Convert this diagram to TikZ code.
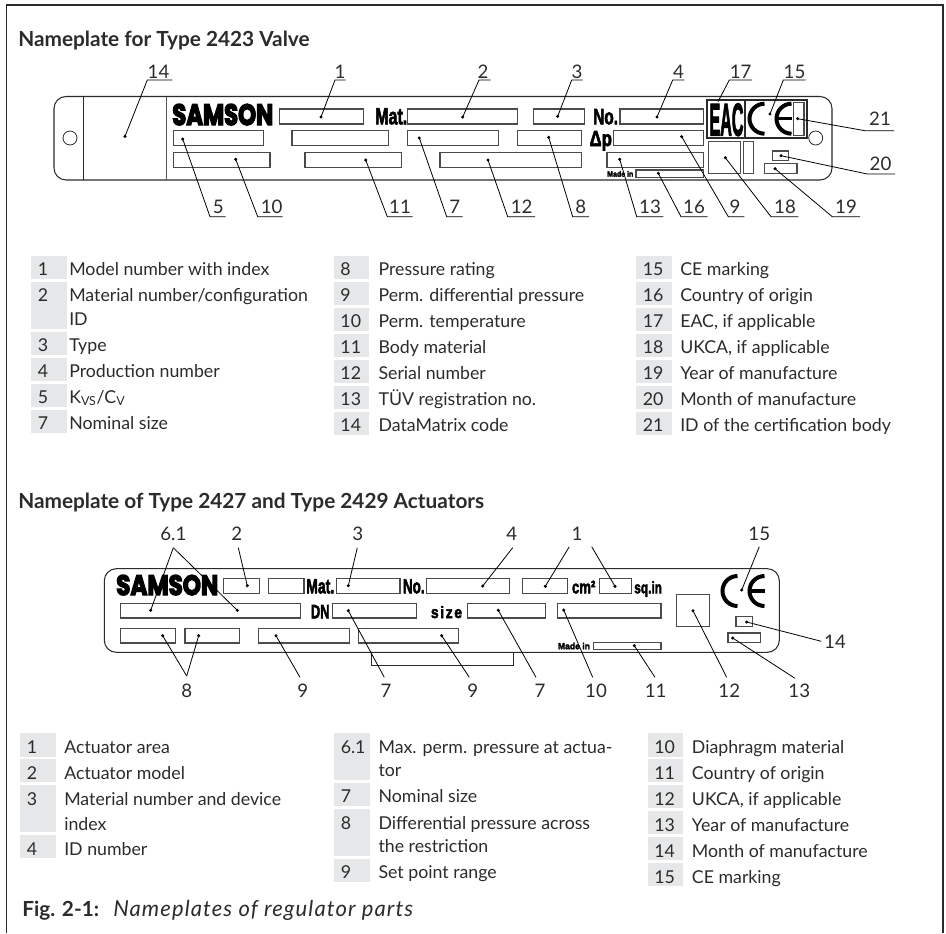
\documentclass[tikz,border=0pt]{standalone}
\usepackage{fontspec}
\usepackage{graphicx}
\setmainfont{Lato}
\newfontfamily\logofont[FakeBold=3,BoldFeatures={FakeBold=3}]{Liberation Sans}
\newfontfamily\brandfont[BoldFeatures={FakeBold=5}]{Poppins}
\newdimen\pxu \pxu=0.75pt
\newcount\rowno
\definecolor{ink}{HTML}{2B2B2B}
\definecolor{numgray}{HTML}{E6E7E8}
\tikzset{
  x=0.75pt,y=-0.75pt,
  plate/.style={draw=ink,line width=0.8pt,rounded corners=9pt},
  field/.style={draw=ink!85,line width=0.8pt},
  leaderline/.style={draw=black,line width=0.6pt},
  ce/.style={draw=black,line width=3pt},
  calllabel/.style={anchor=base,inner sep=0pt,text=ink,font=\fontsize{14pt}{16pt}\selectfont},
  rowtext/.style={anchor=base west,inner sep=0pt,text=ink,font=\fontsize{13.3pt}{15pt}\selectfont},
  heading/.style={anchor=base west,inner sep=0pt,text=ink,font=\fontsize{15.6pt}{18pt}\selectfont\bfseries},
  logotext/.style={anchor=base west,inner sep=0pt,text=black},
}
% fit text to a width/height in reference pixels
\newcommand\fitlogo[3]{\resizebox{#1\pxu}{#2\pxu}{#3}}
% \fieldbox{name}{x1}{y1}{x2}{y2}
\newcommand\fieldbox[5]{\coordinate (#1-a) at (#2,#3);\coordinate (#1-b) at (#4,#5);\draw[field] (#1-a) rectangle (#1-b);}
% \callout{id}{dot}{bend}{end}{label}{labelx}{baseline}
\newcommand\callout[7]{%
  \coordinate (#1-dot) at (#2);\coordinate (#1-bend) at (#3);\coordinate (#1-end) at (#4);
  \node[calllabel] (#1-lab) at (#6,#7) {#5};
  \draw[leaderline] (#1-dot) -- (#1-bend) -- (#1-end);
  \fill (#1-dot) circle[radius=1.7];}
% \spoke{id}{dot}{apex}
\newcommand\spoke[3]{%
  \coordinate (#1-dot) at (#2);\coordinate (#1-apex) at (#3);
  \draw[leaderline] (#1-dot) -- (#1-apex);
  \fill (#1-dot) circle[radius=1.7];}
% \lrow{boxleft}{textx}{top}{bottom}{baseline}{num}{text}
\newcommand\lrow[7]{%
  \global\advance\rowno by 1
  \coordinate (r\the\rowno-a) at (#1,#3);
  \coordinate (r\the\rowno-b) at ({#1+35.5},#4);
  \fill[numgray] (r\the\rowno-a) rectangle (r\the\rowno-b);
  \node[rowtext] (n\the\rowno) at ({#1+6.5},#5) {#6};
  \node[rowtext] (t\the\rowno) at (#2,#5) {#7};}
% CE mark: \cemark{C top x}{E top x}{centre y}{radius}
\newcommand\cemark[4]{%
  \draw[ce] (#1,{#3-#4}) arc[start angle=-90,end angle=-270,radius=#4];
  \draw[ce] (#2,{#3-#4}) arc[start angle=-90,end angle=-270,radius=#4];
  \draw[ce,line width=2.4pt] ({#2-14},#3) -- (#2,#3);}
\begin{document}
\begin{tikzpicture}
\useasboundingbox (0,0) rectangle (946,933);
\draw[ink,line width=0.9pt] (6.5,933) -- (6.5,5) -- (943,5) -- (943,933);

\node[heading] (title1) at (18,46) {Nameplate for Type 2423 Valve};
\node[heading] (title2) at (18,508) {Nameplate of Type 2427 and Type 2429 Actuators};

%% ---- plate 1
\draw[plate] (54,96.5) rectangle (832,180);
\draw[ink,line width=0.8pt] (83.3,96.5) -- (83.3,180);
\draw[ink!80,line width=1pt] (166.7,96.5) -- (166.7,180);
\draw[ink,line width=0.6pt] (70,138) circle[radius=7];
\draw[ink,line width=0.6pt] (815.7,138) circle[radius=7];

\node[logotext] (brand1) at (172,125) {\fitlogo{101}{21}{\brandfont\bfseries SAMSON}};
\node[logotext] (mat1) at (375,124.3) {\fitlogo{32}{16}{\logofont\bfseries Mat.}};
\node[logotext] (no1) at (593,124.3) {\fitlogo{24.7}{15.3}{\logofont\bfseries No.}};
\node[logotext] (dp1) at (589.3,146) {\fitlogo{22.4}{15}{\logofont\bfseries Δp}};
\node[logotext] (made1) at (607,176.7) {\fitlogo{26}{5.7}{\logofont\bfseries Made in}};

\fieldbox{f1}{279.3}{109}{363.3}{124}
\fieldbox{f2}{407.7}{109}{517.7}{124}
\fieldbox{f3}{533.3}{109}{584.3}{124}
\fieldbox{f4}{620}{109}{703.7}{124}
\fieldbox{f5}{173.3}{130.7}{263.3}{145.7}
\fieldbox{f6}{292}{130.7}{388.3}{145.7}
\fieldbox{f7}{407.7}{130.7}{498.3}{145.7}
\fieldbox{f8}{517.3}{130.7}{581.3}{145.7}
\fieldbox{f9}{613.7}{130.7}{703.3}{145.7}
\fieldbox{f10}{173.3}{152.3}{270}{167.3}
\fieldbox{f11}{305}{152.3}{401.7}{167.3}
\fieldbox{f12}{440}{152.3}{581.3}{167.3}
\fieldbox{f13}{607}{152.3}{703.7}{167.3}
\fieldbox{f16}{636}{170}{703.7}{177.3}
\fieldbox{f18}{708.3}{141.3}{740.7}{173.7}
\fieldbox{f18b}{743.3}{141.3}{753.7}{173.7}
\fieldbox{f20}{772.7}{151}{788.7}{160.7}
\fieldbox{f19}{764.3}{163.7}{797}{173.7}
% EAC and CE block
\draw[ink,line width=1.6pt] (707.3,100.3) rectangle (745,138.3);
\draw[ink,line width=1.6pt] (745,100.3) rectangle (806.7,138.3);
\node[logotext] (eac1) at (709.2,135.5) {\fitlogo{34}{32}{\logofont\bfseries EAC}};
\cemark{764.5}{791.5}{118.7}{15}
\fieldbox{f21}{793.3}{102.7}{804}{135.7}

\callout{a14}{125,136.3}{147.3,80}{172.3,80}{14}{158.5}{78}
\callout{a1}{321,117}{335,80}{345.7,80}{1}{340}{78}
\callout{a2}{462.7,117}{479,80}{490.7,80}{2}{483}{78}
\callout{a3}{557.7,116.3}{571.7,80}{582.7,80}{3}{577}{78}
\callout{a4}{657,117}{672.7,80}{684.3,80}{4}{678.5}{78}
\coordinate (a17-top) at (729.3,80);\coordinate (a17-end) at (752,80);\coordinate (a17-foot) at (718,101.7);
\node[calllabel] (a17-lab) at (740.7,78) {17};
\draw[leaderline] (a17-foot) -- (a17-top) -- (a17-end);
\callout{a15}{770,114}{783.3,80}{805.7,80}{15}{794.5}{78}
\callout{a21}{797.7,118.7}{865,130.7}{894,130.7}{21}{880}{125.5}
\callout{a20}{781,155.7}{867.3,174}{895,174}{20}{880.5}{170}
\callout{a19}{775,168.7}{832.3,216.7}{860,216.7}{19}{846}{213.5}
\callout{a18}{725.3,157.7}{771,216.7}{798.3,216.7}{18}{785}{213.5}
\callout{a9}{681.7,136.7}{728.3,216.7}{744.3,216.7}{9}{735}{213.5}
\callout{a16}{658.3,173.3}{681,216.7}{707.7,216.7}{16}{694}{213.5}
\callout{a13}{619.7,159.3}{636.7,216.7}{663.3,216.7}{13}{650}{213.5}
\callout{a8}{548.7,137.3}{572.7,216.7}{589,216.7}{8}{580.7}{213.5}
\callout{a12}{488,160}{507.7,216.7}{535,216.7}{12}{521.7}{213.5}
\callout{a7}{419.3,138}{446.7,216.7}{462.7,216.7}{7}{454.7}{213.5}
\callout{a11}{365.7,160}{387.3,216.7}{412.7,216.7}{11}{400}{213.5}
\callout{a10}{235.7,159.3}{257.7,216.7}{282.7,216.7}{10}{271.7}{213.5}
\callout{a5}{182.7,139}{210,216.7}{225.7,216.7}{5}{218.3}{213.5}

%% ---- legend 1
\lrow{31}{69}{256}{279}{275}{1}{Model number with index}
\lrow{31}{69}{282}{328.7}{301}{2}{Material number/configuration}
\node[rowtext] (t2b) at (69,325) {ID};
\lrow{31}{69}{331.7}{355}{351}{3}{Type}
\lrow{31}{69}{358}{381}{377}{4}{Production number}
\lrow{31}{69}{384}{407}{403}{5}{K\textsubscript{VS}/C\textsubscript{V}}
\lrow{31}{69}{410}{433}{429}{7}{Nominal size}
\lrow{333.7}{378.3}{256}{279}{275}{8}{Pressure rating}
\lrow{333.7}{378.3}{282}{305}{301}{9}{Perm. differential pressure}
\lrow{333.7}{378.3}{308}{331}{327}{10}{Perm. temperature}
\lrow{333.7}{378.3}{334}{357}{353}{11}{Body material}
\lrow{333.7}{378.3}{360}{383}{379}{12}{Serial number}
\lrow{333.7}{378.3}{386}{409}{405}{13}{TÜV registration no.}
\lrow{333.7}{378.3}{412}{435}{431}{14}{DataMatrix code}
\lrow{636}{680}{256}{279}{275}{15}{CE marking}
\lrow{636}{680}{282}{305}{301}{16}{Country of origin}
\lrow{636}{680}{308}{331}{327}{17}{EAC, if applicable}
\lrow{636}{680}{334}{357}{353}{18}{UKCA, if applicable}
\lrow{636}{680}{360}{383}{379}{19}{Year of manufacture}
\lrow{636}{680}{386}{409}{405}{20}{Month of manufacture}
\lrow{636}{680}{412}{435}{431}{21}{ID of the certification body}

%% ---- plate 2
\draw[ink,line width=0.8pt] (371.7,652.3) -- (371.7,665.3) -- (513.3,665.3) -- (513.3,652.3);
\draw[plate,fill=white] (104.3,568.7) rectangle (779.3,652.3);

\node[logotext] (brand2) at (116,595) {\fitlogo{102}{20}{\brandfont\bfseries SAMSON}};
\node[logotext] (mat2) at (306,593.3) {\fitlogo{28}{14}{\logofont\bfseries Mat.}};
\node[logotext] (no2) at (402.7,593.3) {\fitlogo{21.6}{14}{\logofont\bfseries No.}};
\node[logotext] (cm2) at (571.7,593.3) {\fitlogo{23.4}{12.6}{\logofont\bfseries cm²}};
\node[logotext] (sq2) at (634,593.3) {\fitlogo{27.7}{12}{\logofont\bfseries sq.in}};
\node[logotext] (dn2) at (310.7,618.3) {\fitlogo{18.6}{13.3}{\logofont\bfseries DN}};
\node[logotext] (size2) at (430.7,618) {\fitlogo{31}{12}{\logofont\bfseries\addfontfeature{LetterSpace=12}size}};
\node[logotext] (made2) at (557.7,649.3) {\fitlogo{32}{6.6}{\logofont\bfseries Made in}};

\fieldbox{g2}{223.3}{578.3}{259.3}{593.3}
\fieldbox{g2b}{268.3}{578.3}{304}{593.3}
\fieldbox{g3}{336.7}{578.3}{400}{593.3}
\fieldbox{g4}{426.7}{578.3}{509.3}{593.3}
\fieldbox{g1a}{522.3}{578.3}{567.7}{593.3}
\fieldbox{g1b}{599.3}{578.3}{631.7}{593.3}
\fieldbox{g6}{120.3}{603.3}{300.7}{618}
\fieldbox{g7a}{332.7}{603.3}{416.7}{618}
\fieldbox{g7b}{467.3}{603.3}{545.3}{618}
\fieldbox{g10}{557.7}{603.3}{661}{618}
\fieldbox{g8a}{120.3}{628.3}{175.7}{643}
\fieldbox{g8b}{185}{628.3}{239.7}{643}
\fieldbox{g9a}{258.7}{628.3}{349.3}{643}
\fieldbox{g9b}{358.3}{628.3}{458.7}{643}
\fieldbox{g11}{593.3}{642.3}{661}{649.7}
\fieldbox{g12}{676.3}{594.3}{709.3}{626.3}
\fieldbox{g14}{736}{616.7}{752.7}{626.7}
\fieldbox{g13}{728}{633}{760.3}{642.7}
\cemark{737.5}{764.5}{591}{15}

\node[calllabel] (b61) at (173.3,540) {6.1};
\spoke{b61a}{150.7,610.3}{173.3,547.7}
\spoke{b61b}{237.3,610.3}{173.3,547.7}
\node[calllabel] (b2) at (236.7,540) {2};
\spoke{b2s}{247.3,585.7}{238.3,547.7}
\node[calllabel] (b3) at (357.7,540) {3};
\spoke{b3s}{348.3,585.7}{357.3,547.7}
\node[calllabel] (b4) at (511.7,540) {4};
\spoke{b4s}{482.7,586}{512.7,547.7}
\node[calllabel] (b1) at (577,540) {1};
\spoke{b1a}{545.3,586.3}{569.3,546.7}
\spoke{b1b}{615,586.3}{591.7,546.7}
\node[calllabel] (b15) at (759.3,540) {15};
\spoke{b15s}{741.7,590}{759.3,546.7}
\node[calllabel] (b14) at (835,648) {14};
\spoke{b14s}{746.7,622}{821.3,641.3}
\node[calllabel] (b13) at (799.3,697.3) {13};
\spoke{b13s}{732.7,638}{795,678.3}
\node[calllabel] (b12) at (729.3,697.3) {12};
\spoke{b12s}{693,610.7}{726.7,677.3}
\node[calllabel] (b11) at (655.7,697.3) {11};
\spoke{b11s}{634.3,645.7}{655,677.3}
\node[calllabel] (b10) at (596,697.3) {10};
\spoke{b10s}{563.7,610}{592.7,677.3}
\node[calllabel] (b7b) at (540,697.3) {7};
\spoke{b7bs}{498.3,610.3}{536,677.3}
\node[calllabel] (b9b) at (472.7,697.3) {9};
\spoke{b9bs}{441.7,635.7}{469.3,677.3}
\node[calllabel] (b7a) at (386,697.3) {7};
\spoke{b7as}{348.3,610.7}{384.3,677.3}
\node[calllabel] (b9a) at (302.7,697.3) {9};
\spoke{b9as}{276,635.7}{300,677.3}
\node[calllabel] (b8) at (186.7,697.3) {8};
\spoke{b8a}{162.7,635.7}{186.7,676}
\spoke{b8b}{198.7,635.7}{186.7,676}

%% ---- legend 2
\lrow{20}{64}{733.3}{756.7}{753}{1}{Actuator area}
\lrow{20}{64}{759.3}{782.3}{779}{2}{Actuator model}
\lrow{20}{64}{785.3}{832}{805}{3}{Material number and device}
\node[rowtext] (t3b) at (64,830) {index};
\lrow{20}{64}{835}{858.3}{855}{4}{ID number}
\lrow{334}{378.3}{733.3}{780}{753}{6.1}{Max. perm. pressure at actua-}
\node[rowtext] (t61b) at (378.3,776.5) {tor};
\lrow{334}{378.3}{783.3}{806.3}{802.7}{7}{Nominal size}
\lrow{334}{378.3}{809.3}{856}{829}{8}{Differential pressure across}
\node[rowtext] (t8b) at (378.3,852.5) {the restriction};
\lrow{334}{378.3}{859.3}{882.3}{878.5}{9}{Set point range}
\lrow{647.5}{691.7}{733.3}{756.7}{753}{10}{Diaphragm material}
\lrow{647.5}{691.7}{759.3}{782.3}{779}{11}{Country of origin}
\lrow{647.5}{691.7}{785.3}{808.3}{805}{12}{UKCA, if applicable}
\lrow{647.5}{691.7}{811.3}{834.3}{831}{13}{Year of manufacture}
\lrow{647.5}{691.7}{837.3}{860.3}{857}{14}{Month of manufacture}
\lrow{647.5}{691.7}{863.3}{886.3}{883}{15}{CE marking}

\node[heading] (figno) at (22,916.7) {Fig. 2-1:};
\node[rowtext,font=\fontsize{16.5pt}{18pt}\selectfont\itshape\addfontfeature{LetterSpace=5}] (figcap) at (113,916.7) {Nameplates of regulator parts};
\end{tikzpicture}
\end{document}
